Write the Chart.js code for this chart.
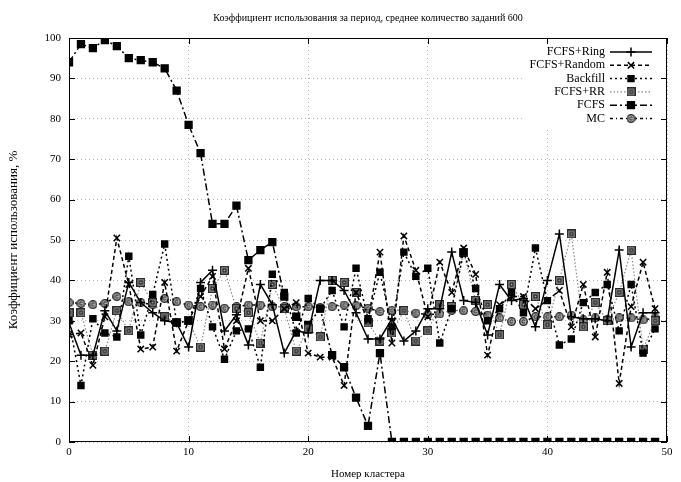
<!DOCTYPE html>
<html>
<head>
<meta charset="utf-8">
<script src="https://cdn.jsdelivr.net/npm/chart.js@4.4.1/dist/chart.umd.min.js"></script>
<style>
html, body { margin: 0; padding: 0; background: #fff; }
</style>
</head>
<body>
<canvas id="util" width="681" height="482"></canvas>
<script>
// cluster numbers along the x axis
var clusters = [];
for (var i = 0; i < 50; i++) clusters.push(i);

var fcfsRing = [29.5, 21.5, 21.5, 32.5, 27.5, 39.5, 34.5, 32, 30, 29.5,
                23.5, 39.5, 42.5, 27.5, 31.5, 24, 39, 34, 22, 27.5,
                27, 40, 40, 37.5, 32, 25.5, 25.5, 30.5, 25, 27.5,
                33, 33, 47, 35, 34.5, 26.5, 39, 35, 35.5, 28.5,
                40, 51.5, 31, 30.5, 30.5, 30, 47.5, 23.5, 32, 32];
var fcfsRandom = [26.5, 27, 19, 31, 50.5, 39, 23, 23.5, 39.5, 22.5,
                  30, 36, 41, 23, 30, 43, 30, 30, 33, 34.5,
                  22, 21, 21, 14, 37, 30, 47, 24.5, 51, 42.5,
                  31, 44.5, 37, 48, 41.5, 21.5, 34, 36, 36, 33,
                  35, 37.5, 28.5, 39, 26, 42, 14.5, 33.5, 44.5, 33];
var backfill = [30, 14, 30.5, 27, 26, 46, 26.5, 36.5, 49, 29.5,
                30, 38, 28.5, 20.5, 27.5, 28, 18.5, 41.5, 37, 27,
                35.5, 33, 37.5, 28.5, 43, 30.5, 42, 28.5, 47, 41,
                43, 24.5, 33, 47, 38, 30, 33, 37, 32, 48,
                35, 24, 25.5, 34.5, 37, 39, 27.5, 39, 22, 28];
var fcfsRR = [32, 32, 21.5, 22.5, 32.5, 27.5, 39.5, 34.5, 31, 29.5,
              30, 23.5, 38, 42.5, 33, 32, 24.5, 39, 33, 22.5,
              28, 26, 40, 39.5, 37, 29.5, 25, 27, 32.5, 25,
              27.5, 34, 33.5, 47, 35, 34, 26.5, 39, 34, 36,
              29, 40, 51.5, 28.5, 34.5, 30, 37, 47.5, 23, 30];
var fcfs = [94, 98.5, 97.5, 99.5, 98, 95, 94.5, 94, 92.5, 87,
            78.5, 71.5, 54, 54, 58.5, 45, 47.5, 49.5, 36, 31,
            29, 33, 21.5, 18.5, 11, 4, 22, 0, 0, 0,
            0, 0, 0, 0, 0, 0, 0, 0, 0, 0,
            0, 0, 0, 0, 0, 0, 0, 0, 0, 0];
var mc = [34.5, 34.3, 34, 34.3, 36, 34.7, 34.5, 34, 35.5, 34.7,
          33.9, 33.5, 33.9, 33.1, 33.5, 33.9, 33.9, 33.5, 33.5, 33.5,
          33.5, 33.3, 33.5, 33.9, 33.7, 33.1, 32.3, 32.6, 32.6, 31.9,
          31.5, 31.7, 32.6, 32.5, 32.3, 31.4, 30.7, 29.8, 29.8, 31,
          31, 31, 31.4, 30.2, 30.7, 30.2, 30.7, 30.7, 30.2, 30.7];

var xTicks = [0, 10, 20, 30, 40, 50];
var yTicks = [0, 10, 20, 30, 40, 50, 60, 70, 80, 90, 100];

var serif = '"Liberation Serif", "DejaVu Serif", serif';

function pts(vals) {
  return vals.map(function (v, k) { return { x: clusters[k], y: v }; });
}

// boxed square used for FCFS+RR
function boxMark() {
  var c = document.createElement('canvas');
  c.width = c.height = 9;
  var g = c.getContext('2d');
  g.fillStyle = '#a8a8a8';
  g.fillRect(0, 0, 9, 9);
  g.strokeStyle = '#222';
  g.lineWidth = 1.3;
  g.strokeRect(0.7, 0.7, 7.6, 7.6);
  g.strokeRect(3, 3, 3, 3);
  return c;
}

// circle with a hook used for MC
function circMark() {
  var c = document.createElement('canvas');
  c.width = c.height = 9;
  var g = c.getContext('2d');
  g.fillStyle = '#a8a8a8';
  g.strokeStyle = '#222';
  g.lineWidth = 1.3;
  g.beginPath();
  g.arc(4.5, 4.5, 3.8, 0, Math.PI * 2);
  g.fill();
  g.stroke();
  g.lineWidth = 1;
  g.beginPath();
  g.arc(4.5, 4.5, 1.6, 0.6, Math.PI * 1.9);
  g.stroke();
  return c;
}

function series(label, vals, dash, color, style, radius, extra) {
  var d = {
    label: label,
    data: pts(vals),
    borderColor: color,
    borderWidth: 1.5,
    borderDash: dash,
    pointStyle: style,
    pointRadius: radius,
    pointHoverRadius: radius,
    pointBorderColor: '#000',
    pointBackgroundColor: '#000',
    pointBorderWidth: 1.5,
    tension: 0,
    fill: false
  };
  for (var k in extra) d[k] = extra[k];
  return d;
}

var datasets = [
  series('FCFS+Ring', fcfsRing, [], '#000', 'cross', 4.5, {}),
  series('FCFS+Random', fcfsRandom, [4, 3], '#000', 'crossRot', 4.5, {}),
  series('Backfill', backfill, [2, 3], '#000', 'rect', 4.2, {}),
  series('FCFS+RR', fcfsRR, [1.5, 2], '#888', boxMark(), 4.5, { borderWidth: 1.2 }),
  series('FCFS', fcfs, [7, 3, 2, 3], '#000', 'rect', 4.8, {}),
  series('MC', mc, [3, 3, 1, 3], '#000', circMark(), 4.5, {})
];

// title, key box, frame and inward ticks in gnuplot manner
var decor = {
  id: 'decor',
  afterDraw: function (chart) {
    var ctx = chart.ctx, a = chart.chartArea;
    var xs = chart.scales.x, ys = chart.scales.y;
    ctx.save();

    ctx.fillStyle = '#000';
    ctx.font = '10px ' + serif;
    ctx.textAlign = 'center';
    ctx.textBaseline = 'middle';
    ctx.fillText('Коэффициент использования за период, среднее количество заданий 600',
      (a.left + a.right) / 2, 18);

    // key
    ctx.fillStyle = '#fff';
    ctx.fillRect(522, a.top + 1, a.right - 523, 88);
    chart.data.datasets.forEach(function (ds, k) {
      var y = 52 + k * 13.3;
      ctx.fillStyle = '#000';
      ctx.font = '12px ' + serif;
      ctx.textAlign = 'right';
      ctx.fillText(ds.label, 605, y);
      ctx.save();
      ctx.strokeStyle = ds.borderColor;
      ctx.lineWidth = ds.borderWidth;
      ctx.setLineDash(ds.borderDash);
      ctx.beginPath();
      ctx.moveTo(610, y);
      ctx.lineTo(652, y);
      ctx.stroke();
      ctx.restore();
      ctx.fillStyle = ds.pointBackgroundColor;
      ctx.strokeStyle = ds.pointBorderColor;
      ctx.lineWidth = ds.pointBorderWidth;
      Chart.helpers.drawPoint(ctx, {
        pointStyle: ds.pointStyle, radius: ds.pointRadius,
        rotation: 0, borderWidth: ds.pointBorderWidth
      }, 631, y);
    });

    // frame
    ctx.strokeStyle = '#000';
    ctx.lineWidth = 1;
    ctx.setLineDash([]);
    ctx.strokeRect(a.left + 0.5, a.top + 0.5, a.right - a.left - 1, a.bottom - a.top - 1);

    ctx.beginPath();
    xTicks.forEach(function (t) {
      var px = Math.round(xs.getPixelForValue(t)) + 0.5;
      ctx.moveTo(px, a.bottom); ctx.lineTo(px, a.bottom - 6);
      ctx.moveTo(px, a.top); ctx.lineTo(px, a.top + 6);
    });
    yTicks.forEach(function (t) {
      var py = Math.round(ys.getPixelForValue(t)) + 0.5;
      ctx.moveTo(a.left, py); ctx.lineTo(a.left + 6, py);
      ctx.moveTo(a.right, py); ctx.lineTo(a.right - 6, py);
    });
    ctx.stroke();
    ctx.restore();
  }
};

new Chart(document.getElementById('util'), {
  type: 'line',
  data: { datasets: datasets },
  options: {
    responsive: false,
    animation: false,
    layout: { padding: { top: 38, right: 14, left: 0, bottom: 0 } },
    plugins: {
      legend: { display: false },
      title: { display: false },
      tooltip: { enabled: false }
    },
    scales: {
      x: {
        type: 'linear',
        min: 0,
        max: 50,
        afterFit: function (s) { s.height = 40; },
        afterBuildTicks: function (s) { s.ticks = xTicks.map(function (v) { return { value: v }; }); },
        ticks: { color: '#000', padding: 4, font: { family: serif, size: 11 } },
        grid: { color: '#b5b5b5', lineWidth: 1, drawTicks: false },
        border: { display: false, dash: [1, 3] },
        title: {
          display: true, text: 'Номер кластера', color: '#000',
          font: { family: serif, size: 11 }, padding: { top: 0, bottom: 1 }
        }
      },
      y: {
        min: 0,
        max: 100,
        afterFit: function (s) { s.width = 69; },
        afterBuildTicks: function (s) { s.ticks = yTicks.map(function (v) { return { value: v }; }); },
        ticks: { color: '#000', padding: 8, font: { family: serif, size: 11 } },
        grid: { color: '#b5b5b5', lineWidth: 1, drawTicks: false },
        border: { display: false, dash: [1, 3] },
        title: {
          display: true, text: 'Коэффициент использования, %', color: '#000',
          font: { family: serif, size: 13 }, padding: { top: 6, bottom: 0 }
        }
      }
    }
  },
  plugins: [decor]
});
</script>
</body>
</html>
